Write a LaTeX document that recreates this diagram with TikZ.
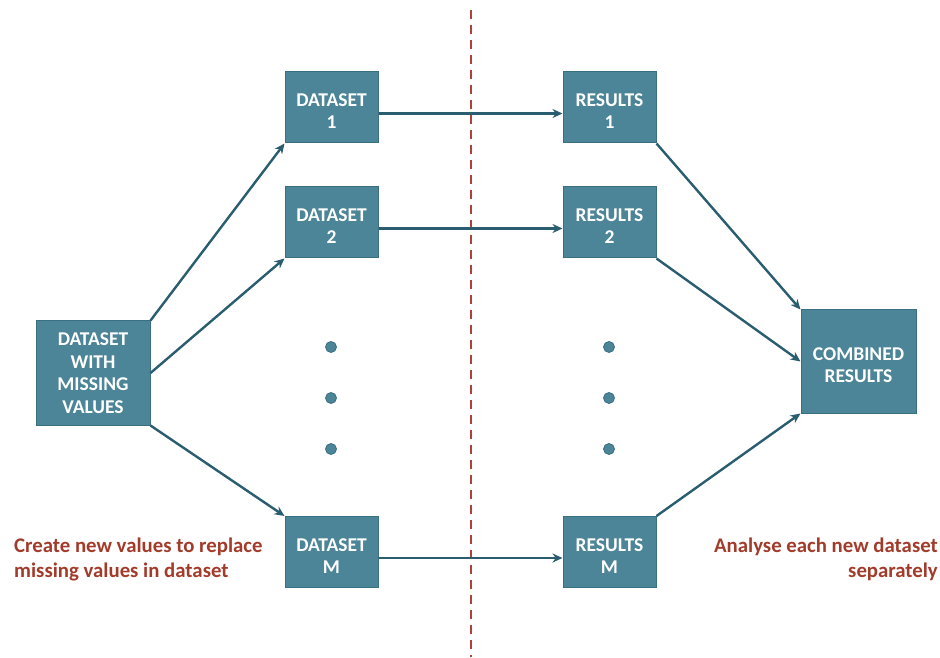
\documentclass[tikz,border=0pt]{standalone}
\usepackage{fontspec}
\setmainfont{Carlito}
\usetikzlibrary{arrows.meta}
\definecolor{boxfill}{HTML}{4B8597}
\definecolor{boxline}{HTML}{3A6F82}
\definecolor{arrowc}{HTML}{2A5D6F}
\definecolor{redtxt}{HTML}{A23B2A}
\definecolor{redline}{HTML}{AE4236}
\newcommand\padtop{\rule{0pt}{20.5pt}}
\tikzset{
  box/.style={draw=boxline, line width=1pt, fill=boxfill, text=white, font=\bfseries\fontsize{19.5}{22.5}\selectfont, align=center, inner sep=0pt},
  smallbox/.style={box, minimum width=93pt, minimum height=71pt},
  conn/.style={draw=arrowc, line width=2.4pt, -{Stealth[length=10pt,width=9pt]}},
  dot/.style={circle, fill=boxfill, draw=boxline, line width=0.8pt, minimum size=11pt, inner sep=0pt},
  note/.style={text=redtxt, font=\bfseries\fontsize{20.8}{25}\selectfont, inner sep=0pt}
}
\begin{document}
\begin{tikzpicture}[x=1pt,y=1pt]
\useasboundingbox (0,0) rectangle (940,657);
\draw[redline, line width=2pt, dash pattern=on 9pt off 6pt] (471,647) -- (471,0);
% nodes (y = 657 - pixel y)
\node[box, minimum width=114pt, minimum height=104pt] (src) at (93,284) {DATASET\\WITH\\MISSING\\VALUES};
\node[smallbox] (d1) at (331.5,549.5) {\padtop DATASET\\1};
\node[smallbox] (d2) at (331.5,434.5) {\padtop DATASET\\2};
\node[smallbox] (dm) at (331.5,105) {\padtop DATASET\\M};
\node[smallbox] (r1) at (609.5,549.5) {\padtop RESULTS\\1};
\node[smallbox] (r2) at (609.5,434.5) {\padtop RESULTS\\2};
\node[smallbox] (rm) at (609.5,105) {\padtop RESULTS\\M};
\node[box, minimum width=115pt, minimum height=103pt] (comb) at (858.5,295.5) {\padtop COMBINED\\RESULTS};
% dots
\foreach \i/\yy in {1/310,2/259,3/208}{
  \node[dot] (ld\i) at (331,\yy) {};
  \node[dot] (rd\i) at (609,\yy) {};
}
% notes
\node[note, anchor=north west, align=left] (n1) at (14,119) {Create new values to replace\\missing values in dataset};
\node[note, anchor=north east, align=right] (n2) at (938,119) {Analyse each new dataset\\separately};
% connectors
\draw[conn] (src.north east) -- (d1.south west);
\draw[conn] (src.east) -- (d2.south west);
\draw[conn] (src.south east) -- (dm.north west);
\draw[conn] ([yshift=-6pt]d1.east) -- ([yshift=-6pt]r1.west);
\draw[conn] ([yshift=-6pt]d2.east) -- ([yshift=-6pt]r2.west);
\draw[conn] ([yshift=-6pt]dm.east) -- ([yshift=-6pt]rm.west);
\draw[conn] (r1.south east) -- (comb.north west);
\draw[conn] (r2.south east) -- (comb.west);
\draw[conn] (rm.north east) -- (comb.south west);
\end{tikzpicture}
\end{document}
